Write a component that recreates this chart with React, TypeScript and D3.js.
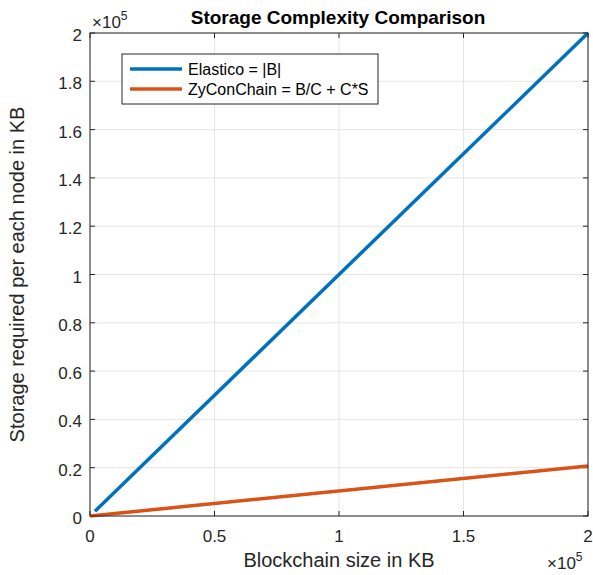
import * as d3 from 'd3'

const blockSize = [2000, 200000]
const elastico = [2000, 200000]
const zyconSize = [0, 200000]
const zycon = [0, 20700]
const xTicks = [0, 0.5, 1, 1.5, 2]
const yTicks = [0, 0.2, 0.4, 0.6, 0.8, 1, 1.2, 1.4, 1.6, 1.8, 2]

const W = 593
const H = 575
const m = { top: 33, right: 5, bottom: 59, left: 90 }
const font = 'Liberation Sans, Arial, Helvetica, sans-serif'
const axisColor = '#262626'

export default function App() {
  const innerW = W - m.left - m.right
  const innerH = H - m.top - m.bottom
  const x = d3.scaleLinear().domain([0, 2e5]).range([0, innerW])
  const y = d3.scaleLinear().domain([0, 2e5]).range([innerH, 0])
  const line = d3.line<[number, number]>().x(d => x(d[0])).y(d => y(d[1]))
  const eData = blockSize.map((b, i) => [b, elastico[i]] as [number, number])
  const zData = zyconSize.map((b, i) => [b, zycon[i]] as [number, number])

  return (
    <svg width={W} height={H} style={{ position: 'absolute', left: 0, top: 0, background: '#fff' }} fontFamily={font}>
      <text x={338} y={24} textAnchor="middle" fontSize={19} fontWeight="bold">Storage Complexity Comparison</text>
      <g transform={`translate(${m.left},${m.top})`}>
        {xTicks.map(t => (
          <line key={'gx' + t} x1={x(t * 1e5)} x2={x(t * 1e5)} y1={0} y2={innerH} stroke="#e6e6e6" />
        ))}
        {yTicks.map(t => (
          <line key={'gy' + t} x1={0} x2={innerW} y1={y(t * 1e5)} y2={y(t * 1e5)} stroke="#e6e6e6" />
        ))}
        {xTicks.map(t => (
          <g key={'tx' + t}>
            <line x1={x(t * 1e5)} x2={x(t * 1e5)} y1={innerH} y2={innerH - 5} stroke={axisColor} />
            <line x1={x(t * 1e5)} x2={x(t * 1e5)} y1={0} y2={5} stroke={axisColor} />
            <text x={x(t * 1e5)} y={innerH + 26} textAnchor="middle" fontSize={17} fill="#262626">{t}</text>
          </g>
        ))}
        {yTicks.map(t => (
          <g key={'ty' + t}>
            <line x1={0} x2={5} y1={y(t * 1e5)} y2={y(t * 1e5)} stroke={axisColor} />
            <line x1={innerW} x2={innerW - 5} y1={y(t * 1e5)} y2={y(t * 1e5)} stroke={axisColor} />
            <text x={-8} y={y(t * 1e5) + 8} textAnchor="end" fontSize={17} fill="#262626">{t}</text>
          </g>
        ))}
        <path d={line(eData) ?? ''} fill="none" stroke="#0072bd" strokeWidth={3.5} />
        <path d={line(zData) ?? ''} fill="none" stroke="#d95319" strokeWidth={3.5} />
        <rect x={0} y={0} width={innerW} height={innerH} fill="none" stroke={axisColor} strokeWidth={1} />
        <g transform="translate(32,21)">
          <rect x={0} y={0} width={256} height={50} fill="#fff" stroke={axisColor} />
          <line x1={8} x2={60} y1={15} y2={15} stroke="#0072bd" strokeWidth={3.5} />
          <text x={66} y={21} fontSize={16} fill="#000">Elastico = |B|</text>
          <line x1={8} x2={60} y1={35} y2={35} stroke="#d95319" strokeWidth={3.5} />
          <text x={66} y={41} fontSize={16} fill="#000">ZyConChain = B/C + C*S</text>
        </g>
      </g>
      <text x={92} y={28} fontSize={17} fill="#262626">×10<tspan dy={-8} fontSize={12}>5</tspan></text>
      <text x={547} y={569} fontSize={17} fill="#262626">×10<tspan dy={-8} fontSize={12}>5</tspan></text>
      <text x={m.left + innerW / 2} y={567} textAnchor="middle" fontSize={20} fill="#262626">Blockchain size in KB</text>
      <text transform={`translate(24,${m.top + innerH / 2}) rotate(-90)`} textAnchor="middle" fontSize={20} fill="#262626">Storage required per each node in KB</text>
    </svg>
  )
}
